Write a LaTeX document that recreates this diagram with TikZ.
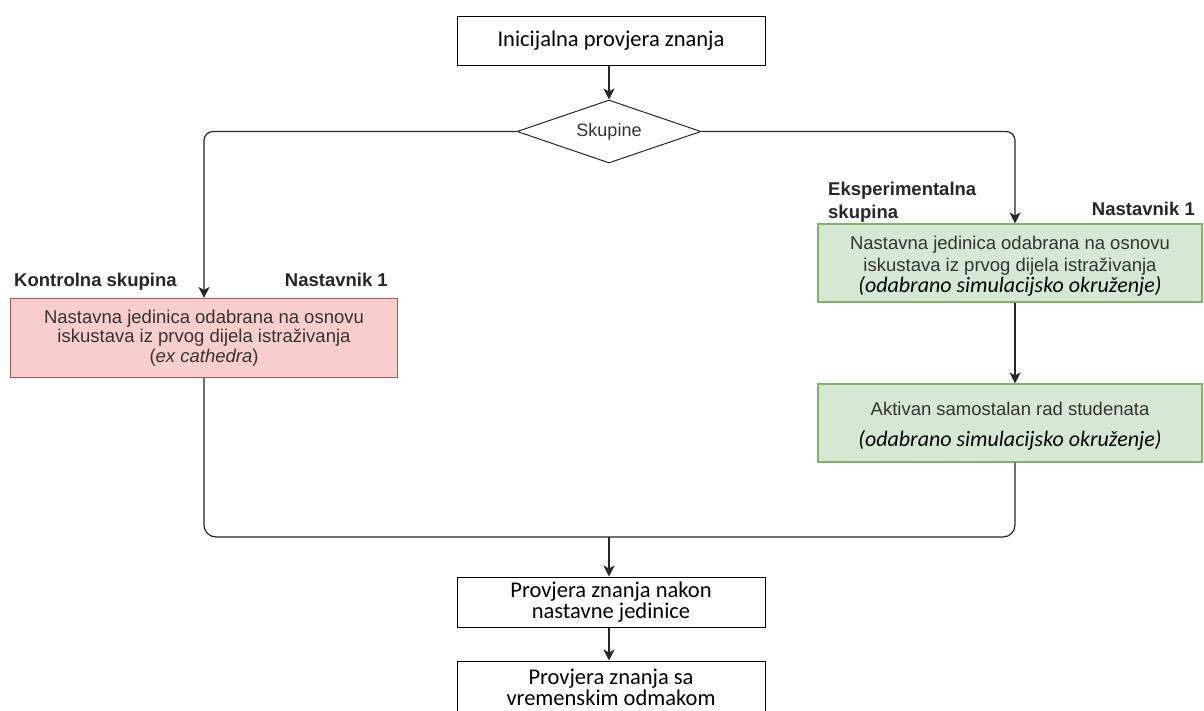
\documentclass[tikz,border=0pt]{standalone}
\usepackage{fontspec}
\setmainfont{Carlito}
\newfontfamily\arialf{Liberation Sans}
\usetikzlibrary{arrows.meta,shapes.geometric}
\definecolor{redfill}{HTML}{F8CECC}
\definecolor{redline}{HTML}{B85450}
\definecolor{greenfill}{HTML}{D5E8D4}
\definecolor{greenline}{HTML}{82B366}
\definecolor{txtgray}{HTML}{333333}
\newcommand{\calit}{\color{black}\rmfamily\itshape\fontsize{22}{23}\selectfont}
\begin{document}
\begin{tikzpicture}[x=1pt,y=-1pt,
  wbox/.style={draw=black, line width=1pt, fill=white, minimum width=308pt, minimum height=49pt, inner sep=0pt, align=center, font=\fontsize{22.5}{21.5}\selectfont},
  rbox/.style={draw=redline, fill=redfill, line width=1.1pt, minimum width=387pt, minimum height=79pt, inner sep=0pt, align=center, text=txtgray, font=\arialf\fontsize{18.5}{19.5}\selectfont},
  gbox/.style={draw=greenline, fill=greenfill, line width=1.1pt, minimum width=384pt, minimum height=78pt, inner sep=0pt, align=center, text=txtgray, font=\arialf\fontsize{18.5}{21.5}\selectfont},
  lbl/.style={font=\arialf\bfseries\fontsize{18.5}{22.5}\selectfont, text=black!85, inner sep=0pt},
  conn/.style={line width=1.2pt, draw=black!85},
  arr/.style={conn, -{Stealth[length=11pt,width=11pt,inset=3pt]}}
]
\useasboundingbox (0,0) rectangle (1204,710);
\clip (0,0) rectangle (1204,710);

\node[wbox] (init) at (611,40.5) {Inicijalna provjera znanja};
\node[diamond, draw=black!85, fill=white, line width=1pt, aspect=2.9, minimum width=184pt, minimum height=63pt, inner sep=0pt, font=\arialf\fontsize{18}{18}\selectfont, text=txtgray] (dia) at (609,131.5) {Skupine};

\node[rbox] (ctrl) at (204,338) {Nastavna jedinica odabrana na osnovu\\iskustava iz prvog dijela istraživanja\\(\textit{ex cathedra})};
\node[gbox] (exp1) at (1010,263) {};
\node[gbox, draw=none, fill=none] (exp1t) at (1010,266) {Nastavna jedinica odabrana na osnovu\\iskustava iz prvog dijela istraživanja\\[-0.5pt]{\calit (odabrano simulacijsko okruženje)}};
\node[gbox] (exp2) at (1010,423) {};
\node[gbox, draw=none, fill=none] (exp2t) at (1010,426) {Aktivan samostalan rad studenata\\[9pt]{\calit (odabrano simulacijsko okruženje)}};

\node[wbox, minimum height=50pt] (post) at (611,602) {Provjera znanja nakon\\nastavne jedinice};
\node[wbox, minimum height=52pt, text depth=0pt] (late) at (611,687) {Provjera znanja sa\\vremenskim odmakom};

\node[lbl, anchor=base west] (kl) at (14,286) {Kontrolna skupina};
\node[lbl, anchor=base east] (n1) at (388,286) {Nastavnik 1};
\node[lbl, anchor=base west, align=left] (el) at (828,218) {Eksperimentalna\\skupina};
\node[lbl, anchor=base east] (n2) at (1195,215) {Nastavnik 1};

\coordinate (rtop) at (1015,131.5);
\coordinate (mL) at (204,537);
\coordinate (mR) at (1015,537);
\coordinate (mC) at (609,537);

\draw[arr] (init.south -| dia.north) -- (dia.north);
\draw[arr, rounded corners=9pt] (dia.west) -| (ctrl.north);
\draw[arr, rounded corners=9pt] (dia.east) -- (rtop) -- (exp1.north -| rtop);
\draw[arr] (exp1.south -| rtop) -- (exp2.north -| rtop);
\draw[conn, rounded corners=12pt] (ctrl.south) -- (mL) -- (mR) -- (exp2.south -| mR);
\draw[arr] (mC) -- (post.north -| mC);
\draw[arr] (post.south -| mC) -- (late.north -| mC);
\end{tikzpicture}
\end{document}
